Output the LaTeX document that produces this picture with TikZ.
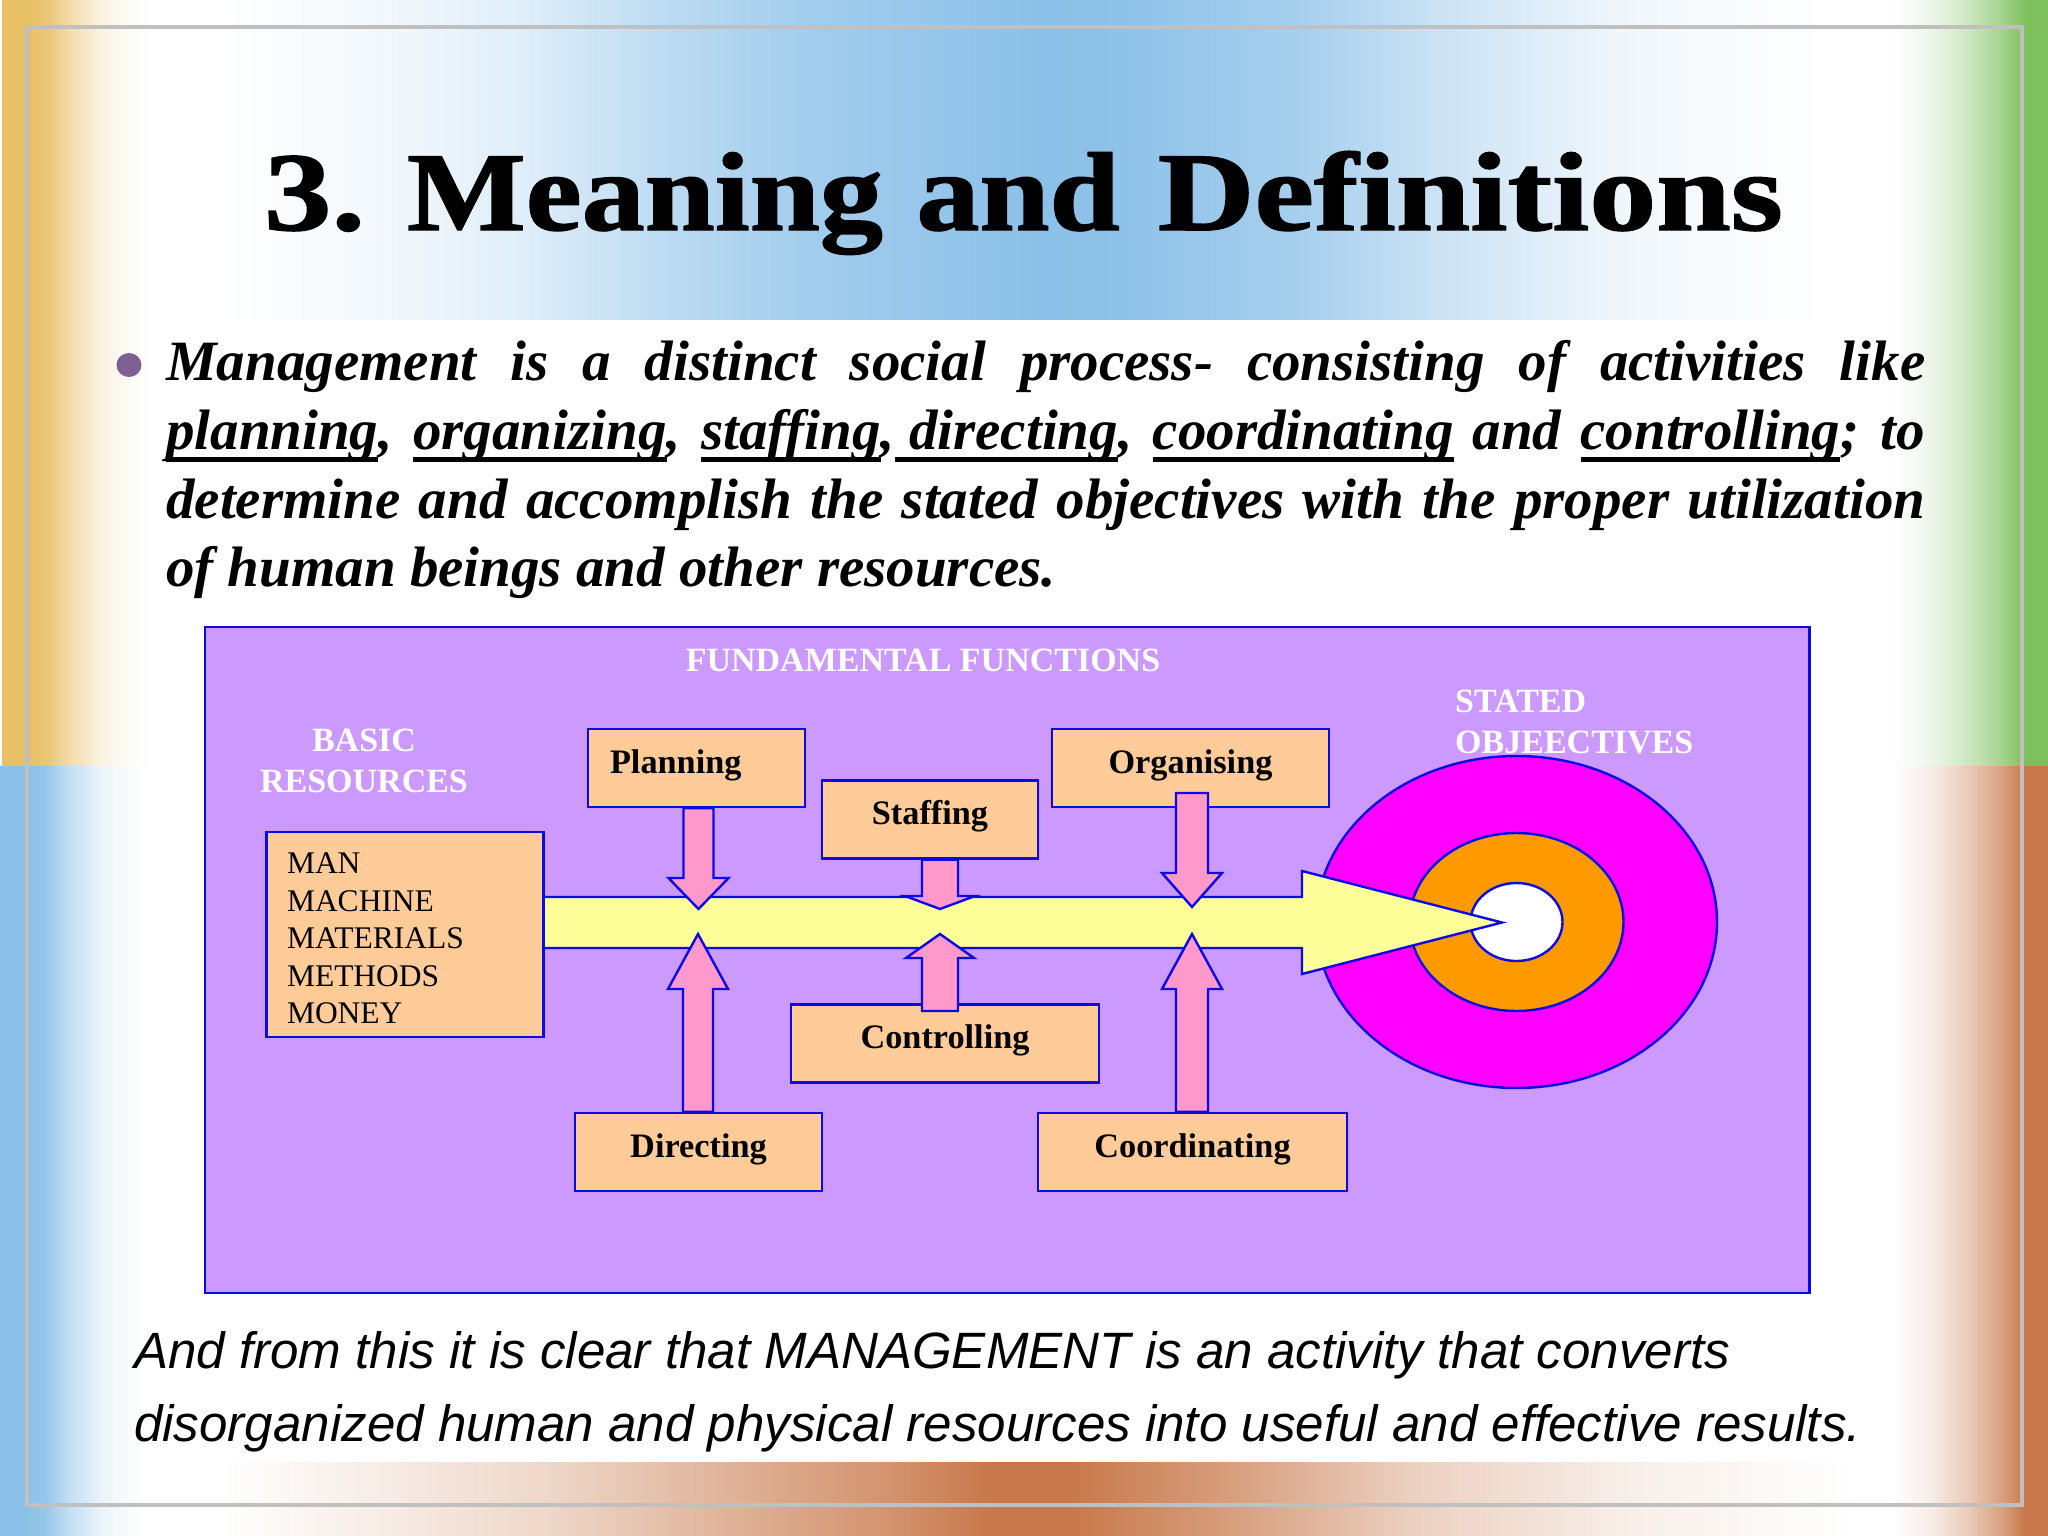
\documentclass[tikz,border=0pt]{standalone}
\usepackage{fontspec}
\setmainfont{Liberation Serif}
\setsansfont{Liberation Sans}
\newfontfamily\titlefont[UprightFont=* Bold,FakeBold=1.2,Ligatures=NoCommon]{Liberation Serif}
\usetikzlibrary{calc}

\definecolor{goldband}{HTML}{E8C065}
\definecolor{blueband}{HTML}{8BC0E8}
\definecolor{greenband}{HTML}{7EC05E}
\definecolor{brownband}{HTML}{C8784A}
\definecolor{framegray}{HTML}{C0C0C0}
\definecolor{panelviolet}{HTML}{CC99FF}
\definecolor{boxorange}{HTML}{FFCC99}
\definecolor{arrowpink}{HTML}{FF99CC}
\definecolor{arrowyellow}{HTML}{FFFF99}
\definecolor{targetmagenta}{HTML}{FF00FF}
\definecolor{targetorange}{HTML}{FF9900}
\definecolor{bulletpurple}{HTML}{7F6093}
\definecolor{edgeblue}{HTML}{0A0AE6}

\pgfdeclarehorizontalshading{topband}{100bp}{color(0bp)=(white); color(30.4bp)=(white);
 color(34.6bp)=(blueband!12!white); color(37.7bp)=(blueband!27!white); color(41.6bp)=(blueband!60!white);
 color(44.8bp)=(blueband!80!white); color(50.5bp)=(blueband); color(52.4bp)=(blueband!97!white);
 color(56.9bp)=(blueband!75!white); color(60.1bp)=(blueband!45!white); color(64.8bp)=(blueband!12!white);
 color(69.6bp)=(white); color(100bp)=(white)}
\pgfdeclarehorizontalshading{bottomband}{100bp}{color(0bp)=(white); color(30.4bp)=(white);
 color(34.6bp)=(brownband!15!white); color(38.4bp)=(brownband!30!white); color(42.5bp)=(brownband!55!white);
 color(46.7bp)=(brownband!80!white); color(49.2bp)=(brownband); color(51.1bp)=(brownband);
 color(55.3bp)=(brownband!70!white); color(59.4bp)=(brownband!35!white); color(64.8bp)=(brownband!12!white);
 color(70.3bp)=(white); color(100bp)=(white)}

\newcommand{\leftfade}[2]{\pgfdeclarehorizontalshading{#1}{100bp}{color(0bp)=(#2); color(33.7bp)=(#2);
 color(40bp)=(#2!90!white); color(47.3bp)=(#2!55!white); color(58.3bp)=(#2!18!white);
 color(69.3bp)=(#2!3!white); color(75bp)=(white); color(100bp)=(white)}}
\newcommand{\rightfade}[2]{\pgfdeclarehorizontalshading{#1}{100bp}{color(0bp)=(white); color(26bp)=(white);
 color(38.6bp)=(#2!15!white); color(49.4bp)=(#2!38!white); color(59.8bp)=(#2!68!white);
 color(66.1bp)=(#2!93!white); color(67.7bp)=(#2); color(100bp)=(#2)}}
\leftfade{leftgold}{goldband}
\leftfade{leftblue}{blueband}
\rightfade{rightgreen}{greenband}
\rightfade{rightbrown}{brownband}

\newcommand{\undline}[1]{\setbox0=\hbox{#1}\rlap{\vrule width\wd0 height -8pt depth 13pt}\box0\relax}

\tikzset{
 edged/.style={draw=edgeblue, line width=2.4pt},
 funcbox/.style={edged, fill=boxorange, inner ysep=0pt, inner xsep=0pt, text height=44pt, text depth=34pt,
  font=\fontsize{34.3}{40}\selectfont\bfseries},
 whitelabel/.style={inner sep=0pt, text=white, font=\fontsize{34}{41}\selectfont\bfseries},
 bodyline/.style={anchor=base west, inner sep=0pt, font=\fontsize{57}{68}\selectfont\bfseries\itshape},
 closing/.style={anchor=base west, inner sep=0pt, font=\fontsize{51.1}{60}\selectfont\sffamily\itshape},
 pinkarrow/.style={edged, fill=arrowpink, line join=miter}
}

\begin{document}
\begin{tikzpicture}[x=1pt, y=-1pt]

 \useasboundingbox (0,0) rectangle (2048,1536);
 \fill[white] (0,0) rectangle (2048,1536);

 \shade[shading=topband] (0,0) rectangle (2048,319);
 \shade[shading=bottomband] (0,1462) rectangle (2048,1536);

 \shade[shading=leftgold] (2,0) rectangle (152,766);
 \shade[shading=leftblue] (0,766) rectangle (150,1536);
 \shade[shading=rightgreen] (1890,0) rectangle (2048,766);
 \shade[shading=rightbrown] (1890,766) rectangle (2048,1536);

 \draw[framegray, line width=4pt] (27,27.5) rectangle (2022,1505);

 \node[anchor=base, inner sep=0pt, xscale=1.125, font=\fontsize{112}{120}\selectfont\titlefont] (title) at (1023.5,230)
  {\scalebox{1.07}[1]{3.}\hspace{37pt}Meaning\hspace{30pt}and\hspace{33.8pt}\scalebox{1.063}[1]{Definitions}};

 \fill[bulletpurple] (129,365) ellipse (12.5 and 12);

 \node[bodyline] (line1) at (166,380) {\makebox[1759pt][s]{Management is a distinct social process- consisting of activities like}};
 \node[bodyline] (line2) at (166,449) {\makebox[1759pt][s]{\undline{planning}, \undline{organizing}, \undline{staffing},\undline{ directing}, \undline{coordinating} and \undline{controlling}; to}};
 \node[bodyline] (line3) at (166,518) {\makebox[1759pt][s]{determine and accomplish the stated objectives with the proper utilization}};
 \node[bodyline] (line4) at (166,586) {of human beings and other resources.};

 \draw[edged, fill=panelviolet] (205,627) rectangle (1809.5,1293);

 \node[whitelabel, anchor=base] (fundamental) at (923,671) {FUNDAMENTAL FUNCTIONS};
 \node[whitelabel, anchor=base, align=center] (basic) at (364,792) {BASIC\\RESOURCES};
 \node[whitelabel, anchor=base west, align=left] (stated) at (1455,753) {STATED\\OBJEECTIVES};

 \path (1516.5,922) coordinate (C);
 \draw[edged, fill=targetmagenta] (C) ellipse (200.5 and 166);
 \draw[edged, fill=targetorange] (C) ellipse (107 and 89);
 \draw[edged, fill=white] (C) ellipse (46 and 39);

 \draw[edged, fill=arrowyellow, line join=miter] (544,897) -- (1302,897) -- (1302,871) -- (1502,922.5) -- (1302,974) -- (1302,948) -- (544,948);

 \node[edged, fill=boxorange, inner sep=0pt, minimum width=277pt, minimum height=205pt, font=\fontsize{31.5}{37.6}\selectfont] (resources) at (405,934.5)
  {\parbox{236pt}{\raggedright\vspace*{8pt} MAN\\MACHINE\\MATERIALS\\METHODS\\MONEY}};

 \node[funcbox, minimum width=217pt] (planning) at (696.5,768) {\makebox[217pt][l]{\hspace{22pt}Planning}};
 \node[funcbox, minimum width=216pt] (staffing) at (930,819.5) {Staffing};
 \node[funcbox, minimum width=277.5pt] (organising) at (1190.5,768) {Organising};
 \node[funcbox, minimum width=308pt] (controlling) at (945,1043.5) {Controlling};
 \node[funcbox, minimum width=247pt] (directing) at (698.5,1152) {Directing};
 \node[funcbox, minimum width=309pt] (coordinating) at (1192.5,1152) {Coordinating};

 \path (698.5,909) coordinate (planT);
 \path (940,909) coordinate (staffT);
 \path (1192,907) coordinate (orgT);
 \path (698,934) coordinate (dirT);
 \path (940,934) coordinate (contT);
 \path (1192,934) coordinate (coordT);
 \path (planT |- planning.south) coordinate (planS);
 \path (staffT |- staffing.south) coordinate (staffS);
 \path (1192,793) coordinate (orgS);
 \path (dirT |- directing.north) coordinate (dirS);
 \path (940,1011) coordinate (contS);
 \path (coordT |- coordinating.north) coordinate (coordS);

 \foreach \a/\b/\sw/\hw/\hl in {planS/planT/15/30/-31, staffS/staffT/18/35/-13, orgS/orgT/16/30/-34,
  dirS/dirT/15/30/55, contS/contT/18/34/24, coordS/coordT/16/30/55}
 {
  \draw[pinkarrow] ($(\a)+(-\sw,0)$) -- ($(\b)+(-\sw,\hl)$) -- ($(\b)+(-\hw,\hl)$) -- (\b)
   -- ($(\b)+(\hw,\hl)$) -- ($(\b)+(\sw,\hl)$) -- ($(\a)+(\sw,0)$) -- cycle;
 }

 \node[closing] (close1) at (134,1368) {And from this it is clear that MANAGEMENT is an activity that converts};
 \node[closing] (close2) at (134,1441.5) {disorganized human and physical resources into useful and effective results.};

\end{tikzpicture}
\end{document}
